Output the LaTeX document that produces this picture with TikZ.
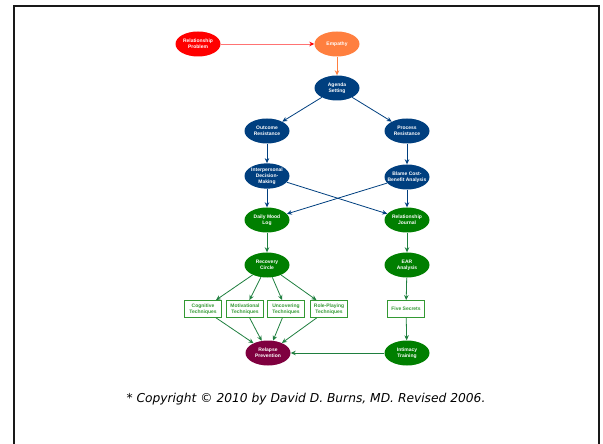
\documentclass[tikz,border=0pt]{standalone}
\usepackage{fontspec}
\setmainfont{Liberation Sans}
\newfontfamily\noteFont{DejaVu Sans}
\usetikzlibrary{arrows.meta,shapes.geometric}
\definecolor{problemRed}{RGB}{255,0,0}
\definecolor{empathyOrange}{RGB}{255,127,63}
\definecolor{agendaNavy}{RGB}{0,63,127}
\definecolor{toolGreen}{RGB}{0,127,0}
\definecolor{boxGreen}{RGB}{51,153,51}
\definecolor{arrowGreen}{RGB}{31,127,63}
\definecolor{relapseMaroon}{RGB}{127,0,63}
\newcommand{\ovalText}[1]{\makebox[0pt]{\begin{tabular}{@{}c@{}}#1\end{tabular}}}

\begin{document}
\begin{tikzpicture}
[x=1bp,y=-1bp,
  ovalDecorate/.style={shape=ellipse,minimum width=45bp,minimum height=25bp,inner sep=0pt,
    text=white,font=\fontsize{5}{6}\selectfont\bfseries},
  boxDecorate/.style={shape=rectangle,draw=boxGreen,line width=0.8bp,minimum width=37bp,
    minimum height=17bp,inner sep=1bp,text=boxGreen,align=center,
    font=\fontsize{5}{6}\selectfont\bfseries},
  lineDecorate/.style={-{Stealth[length=5bp,width=4.5bp]},line width=0.8bp}]
\useasboundingbox (0,0) rectangle (603,444);
%% frame
\draw[line width=2bp,black!90] (14,444) -- (14,6) -- (599,6) -- (599,444);
%% oval nodes
\foreach \nodename/\x/\y/\fillcolor/\nodetext in {
  relProblem/198/44/problemRed/Relationship\\Problem,
  empathy/337/44/empathyOrange/Empathy,
  agenda/337/88/agendaNavy/Agenda\\Setting,
  outcome/267/131/agendaNavy/Outcome\\Resistance,
  process/407/131/agendaNavy/Process\\Resistance,
  interpersonal/267/176/agendaNavy/Interpersonal\\Decision-\\Making,
  blame/407/177/agendaNavy/Blame Cost-\\Benefit Analysis,
  dailyMood/267/220/toolGreen/Daily Mood\\Log,
  relJournal/407/220/toolGreen/Relationship\\Journal,
  recovery/267/265/toolGreen/Recovery\\Circle,
  ear/407/265/toolGreen/EAR\\Analysis,
  relapse/268/353/relapseMaroon/Relapse\\Prevention,
  intimacy/407/353/toolGreen/Intimacy\\Training}
{
  \node (\nodename) at (\x,\y) [ovalDecorate,fill=\fillcolor] {\ovalText{\nodetext}};
}
%% boxed techniques
\foreach \nodename/\x/\nodetext in {
  cognitive/203/Cognitive\\Techniques,
  motivational/245/Motivational\\Techniques,
  uncovering/286/Uncovering\\Techniques,
  rolePlaying/329/Role-Playing\\Techniques,
  fiveSecrets/406/Five Secrets}
{
  \node (\nodename) at (\x,309) [boxDecorate] {\nodetext};
}
%% edges
\path (relProblem) edge[lineDecorate,problemRed!55,
  -{Stealth[length=5bp,width=4.5bp,color=problemRed]}] (empathy);
\path (empathy) edge[lineDecorate,empathyOrange] (agenda);
\path
\foreach \startnode/\endnode in {
  agenda/outcome, agenda/process, outcome/interpersonal, process/blame,
  interpersonal/dailyMood, interpersonal/relJournal, blame/dailyMood, blame/relJournal}
{
  (\startnode) edge[lineDecorate,agendaNavy] (\endnode)
};
\path
\foreach \startnode/\endnode in {
  dailyMood/recovery, relJournal/ear, recovery/cognitive, recovery/motivational,
  recovery/uncovering, recovery/rolePlaying, cognitive/relapse, motivational/relapse,
  uncovering/relapse, rolePlaying/relapse, ear/fiveSecrets, fiveSecrets/intimacy,
  intimacy/relapse}
{
  (\startnode) edge[lineDecorate,arrowGreen] (\endnode)
};
%% note
\node (copyright) at (306,399)
  [font=\noteFont\itshape\fontsize{12.3}{14}\selectfont]
  {* Copyright © 2010 by David D. Burns, MD. Revised 2006.};
\end{tikzpicture}
\end{document}
